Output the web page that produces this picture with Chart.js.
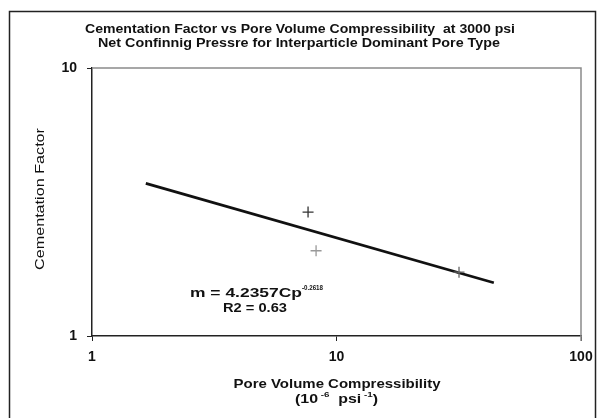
<!DOCTYPE html>
<html><head><meta charset="utf-8">
<script src="https://cdn.jsdelivr.net/npm/chart.js@4/dist/chart.umd.min.js"></script>
<style>html,body{margin:0;padding:0;background:#fff}#wrap{width:601px;height:418px;position:relative}</style>
</head><body><div id="wrap"><canvas id="c" width="601" height="418"></canvas></div>
<script>
const titleLines = ["Cementation Factor vs Pore Volume Compressibility  at 3000 psi", "Net Confinnig Pressre for Interparticle Dominant Pore Type"];
const compressibility = [7.65, 8.25, 31.7];
const cementation = [2.90, 2.08, 1.73];
const pointColors = ["#333333", "#999999", "#666666"];
const trendX = [1.66, 44];
const trendY = [3.71, 1.58];
const xTickValues = [1, 10, 100];
const yTickValues = [1, 10];
const yTitle = "Cementation Factor";
const xTitle = "Pore Volume Compressibility";
const equationText = "m = 4.2357Cp";
const equationExp = "-0.2618";
const r2Text = "R2 = 0.63";

const F = "Arial, 'Liberation Sans', sans-serif";

function fitText(ctx, text, x, y, targetW, font, left) {
  ctx.save();
  ctx.font = font;
  const w = ctx.measureText(text).width;
  const s = targetW / w;
  ctx.textAlign = 'left';
  ctx.textBaseline = 'middle';
  const x0 = left ? x : x - targetW / 2;
  ctx.translate(x0, y);
  ctx.scale(s, 1);
  ctx.fillText(text, 0, 0);
  ctx.restore();
}

const deco = {
  id: 'deco',
  afterDraw(chart) {
    const ctx = chart.ctx, a = chart.chartArea;
    ctx.save();
    ctx.strokeStyle = '#222'; ctx.lineWidth = 1.5;
    ctx.strokeRect(9.5, 11.5, 586, 420);
    ctx.strokeStyle = '#8a8a8a'; ctx.lineWidth = 1.5;
    ctx.beginPath(); ctx.moveTo(a.left, a.top); ctx.lineTo(a.right, a.top); ctx.lineTo(a.right, a.bottom); ctx.stroke();
    ctx.beginPath(); ctx.moveTo(a.right, a.bottom); ctx.lineTo(a.right, a.bottom + 5); ctx.stroke();
    ctx.fillStyle = '#111';
    fitText(ctx, titleLines[0], 300, 29, 430, 'bold 13px ' + F);
    fitText(ctx, titleLines[1], 299, 43.5, 402, 'bold 13px ' + F);
    ctx.save(); ctx.translate(40, 199); ctx.rotate(-Math.PI / 2);
    fitText(ctx, yTitle, 0, 0, 142, '13px ' + F);
    ctx.restore();
    fitText(ctx, xTitle, 337, 384, 207, 'bold 13px ' + F);
    const parts = [['(10', 0, 13], [' -6', 1, 8], ['  psi', 0, 13], [' -1', 1, 8], [')', 0, 13]];
    let total = 0;
    parts.forEach(p => { ctx.font = 'bold ' + p[2] + 'px ' + F; total += ctx.measureText(p[0]).width; });
    const sc = 83 / total;
    let x = 336.5 - 83 / 2;
    parts.forEach(p => {
      const f = 'bold ' + p[2] + 'px ' + F;
      ctx.font = f;
      const w = ctx.measureText(p[0]).width * sc;
      fitText(ctx, p[0], x, p[1] ? 395 : 399, w, f, true);
      x += w;
    });
    fitText(ctx, equationText, 190, 293.5, 112, 'bold 13px ' + F, true);
    fitText(ctx, equationExp, 302, 288, 21, 'bold 8px ' + F, true);
    fitText(ctx, r2Text, 255, 308, 64, 'bold 13px ' + F);
    ctx.restore();
  }
};

new Chart(document.getElementById('c'), {
  type: 'scatter',
  data: {
    datasets: [
      { label: 'trend', type: 'line', data: trendX.map((x, i) => ({x, y: trendY[i]})), borderColor: '#111', borderWidth: 2.8, pointRadius: 0, fill: false, order: 2 },
      { label: 'data', data: compressibility.map((x, i) => ({x, y: cementation[i]})), pointStyle: 'cross', pointRadius: 5.5, borderWidth: 1.3, pointBorderColor: pointColors, borderColor: pointColors, order: 1 }
    ]
  },
  plugins: [deco],
  options: {
    responsive: false, animation: false, devicePixelRatio: 1,
    layout: { padding: { left: 0, top: 68, right: 20, bottom: 0 } },
    plugins: { legend: { display: false }, tooltip: { enabled: false }, title: { display: false } },
    scales: {
      x: {
        type: 'logarithmic', min: 1, max: 100,
        afterBuildTicks: s => { s.ticks = xTickValues.map(v => ({value: v})); },
        afterFit: s => { s.height = 82; },
        ticks: { callback: v => String(v), color: '#111', font: { family: F, size: 14, weight: 'bold' }, padding: 8, maxRotation: 0, autoSkip: false },
        grid: { display: true, drawOnChartArea: false, drawTicks: true, tickLength: 5, color: '#222' },
        border: { display: true, color: '#222', width: 1.5 }
      },
      y: {
        type: 'logarithmic', min: 1, max: 10,
        afterBuildTicks: s => { s.ticks = yTickValues.map(v => ({value: v})); },
        afterFit: s => { s.width = 92; },
        ticks: { callback: v => String(v), color: '#111', font: { family: F, size: 14, weight: 'bold' }, padding: 10, autoSkip: false },
        grid: { display: true, drawOnChartArea: false, drawTicks: true, tickLength: 5, color: '#222' },
        border: { display: true, color: '#222', width: 1.5 }
      }
    }
  }
});
</script></body></html>
